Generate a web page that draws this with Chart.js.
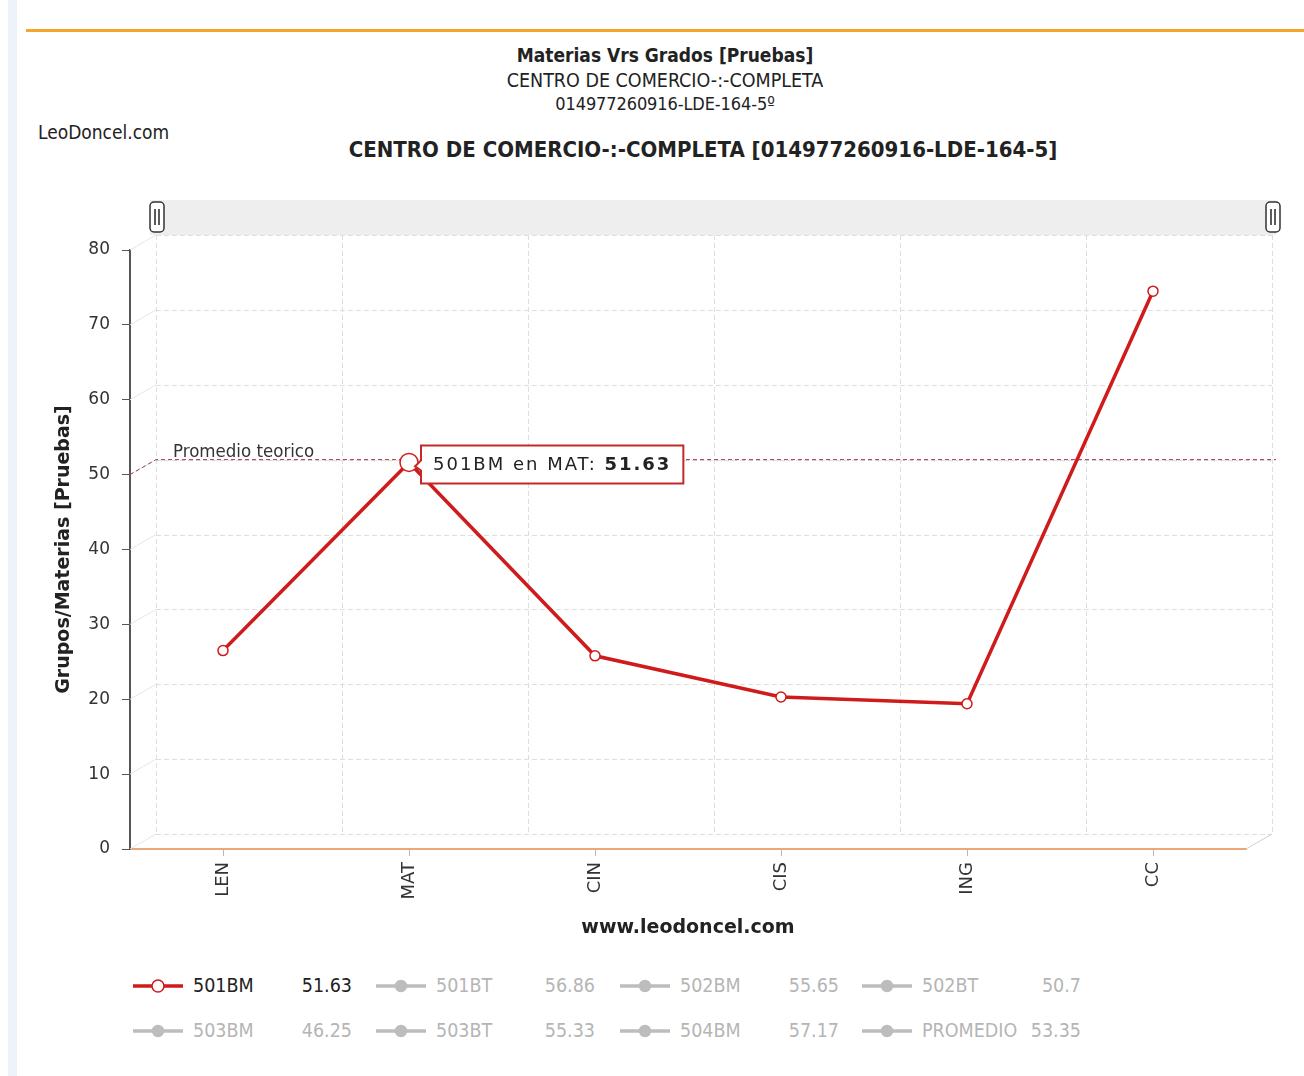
<!DOCTYPE html>
<html>
<head>
<meta charset="utf-8">
<script src="https://cdn.jsdelivr.net/npm/chart.js@4/dist/chart.umd.min.js"></script>
<style>
  html, body { margin: 0; padding: 0; background: #ffffff; }
  #page { position: relative; width: 1304px; height: 1076px; overflow: hidden; background: #fff; }
  #edge { position: absolute; left: 8px; top: 0; width: 9px; height: 1076px; background: #eef2f9; }
  #topline { position: absolute; left: 26px; top: 29px; width: 1278px; height: 3px; background: #f4a52c; }
  .hdr { position: absolute; left: 0; width: 1330px; text-align: center; color: #222; white-space: nowrap; font-family: "DejaVu Sans Condensed", "DejaVu Sans", sans-serif; }
  #h1 { top: 44px; font-size: 19px; font-weight: bold; }
  #h2 { top: 69px; font-size: 19.5px; letter-spacing: 0px; }
  #h3 { top: 93px; font-size: 18px; letter-spacing: -0.1px; }
  #brand { position: absolute; left: 38px; top: 121px; font-family: "DejaVu Sans Condensed", sans-serif; font-size: 19px; color: #222; }
  #ctitle { position: absolute; left: 0; width: 1406px; top: 137px; text-align: center; font-family: "DejaVu Sans Condensed", sans-serif; font-weight: bold; font-size: 22px; color: #222; white-space: nowrap; }
  #chartBox { position: absolute; left: 0; top: 180px; width: 1304px; height: 770px; }
  #legend { position: absolute; left: 0; top: 966px; width: 1304px; height: 100px; font-family: "DejaVu Sans Condensed", sans-serif; font-size: 19.5px; }
  .li { position: absolute; height: 40px; }
  .li .mk { position: absolute; left: 0; top: 0; width: 50px; height: 40px; }
  .li .lb { position: absolute; left: 60px; top: 8px; white-space: nowrap; }
  .li .vl { position: absolute; left: 0; width: 219px; top: 8px; text-align: right; white-space: nowrap; }
</style>
</head>
<body>
<div id="page">
  <div id="edge"></div>
  <div id="topline"></div>
  <div class="hdr" id="h1">Materias Vrs Grados [Pruebas]</div>
  <div class="hdr" id="h2">CENTRO DE COMERCIO-:-COMPLETA</div>
  <div class="hdr" id="h3">014977260916-LDE-164-5º</div>
  <div id="brand">LeoDoncel.com</div>
  <div id="ctitle">CENTRO DE COMERCIO-:-COMPLETA [014977260916-LDE-164-5]</div>
  <div id="chartBox"><canvas id="c" width="1304" height="770"></canvas></div>
  <div id="legend"></div>
</div>
<script>
// Subjects on the category axis
const materias = ["LEN", "MAT", "CIN", "CIS", "ING", "CC"];
// Scores of group 501BM per subject
const valores501BM = [26.5, 51.63, 25.8, 20.3, 19.4, 74.5];
// Reference level drawn as a dashed guide
const promedioTeorico = 50;
const promedioTexto = "Promedio teorico";
// Selected subject shown in the balloon and legend
const materiaActiva = 1;
// Legend entries (group, value at the selected subject, visible)
const gruposLegend = ["501BM", "501BT", "502BM", "502BT", "503BM", "503BT", "504BM", "PROMEDIO"];
const valoresLegend = ["51.63", "56.86", "55.65", "50.7", "46.25", "55.33", "57.17", "53.35"];
const visiblesLegend = [true, false, false, false, false, false, false, false];
// Y axis
const yMin = 0, yMax = 80, yPaso = 10;

const ROJO = "#cf1b1b";
const DX = 26, DY = -15; // depth of the back grid plane

// Back plane grid, depth edges, guide line and scroll bar
const planoFondo = {
  id: "planoFondo",
  beforeDatasetsDraw(chart) {
    const { ctx, chartArea: a, scales: { x, y } } = chart;
    ctx.save();
    // scroll bar
    ctx.fillStyle = "#eeeeee";
    ctx.fillRect(a.left + 20, a.top - 50, a.right + DX - a.left - 20 + 4, 35);
    const asa = (cx) => {
      ctx.fillStyle = "#fff";
      ctx.strokeStyle = "#333";
      ctx.lineWidth = 1.5;
      ctx.beginPath();
      ctx.roundRect(cx - 7, a.top - 48, 14, 30, 4);
      ctx.fill(); ctx.stroke();
      ctx.lineWidth = 1.6;
      ctx.beginPath();
      ctx.moveTo(cx - 2, a.top - 41); ctx.lineTo(cx - 2, a.top - 25);
      ctx.moveTo(cx + 2, a.top - 41); ctx.lineTo(cx + 2, a.top - 25);
      ctx.stroke();
    };
    asa(a.left + 27);
    asa(a.right + DX + 1);

    // horizontal grid lines on back plane
    ctx.lineWidth = 1;
    ctx.strokeStyle = "#dedede";
    ctx.setLineDash([5, 3]);
    y.ticks.forEach(t => {
      const py = Math.round(y.getPixelForValue(t.value)) + 0.5;
      ctx.beginPath();
      ctx.moveTo(a.left + DX, py + DY);
      ctx.lineTo(a.right + DX, py + DY);
      ctx.stroke();
    });
    // vertical grid lines at category boundaries
    const n = materias.length;
    for (let i = 0; i <= n; i++) {
      const px = Math.round(a.left + (a.right - a.left) * i / n) + DX + 0.5;
      ctx.beginPath();
      ctx.moveTo(px, a.top + DY);
      ctx.lineTo(px, a.bottom + DY);
      ctx.stroke();
    }
    ctx.setLineDash([]);
    // depth edges from front ticks
    ctx.strokeStyle = "#e6e6e6";
    y.ticks.forEach(t => {
      const py = y.getPixelForValue(t.value);
      ctx.beginPath();
      ctx.moveTo(a.left, py);
      ctx.lineTo(a.left + DX, py + DY);
      ctx.stroke();
    });
    ctx.strokeStyle = "#cfcfcf";
    ctx.beginPath();
    ctx.moveTo(a.right, a.bottom);
    ctx.lineTo(a.right + DX, a.bottom + DY);
    ctx.stroke();

    // guide
    const gy = y.getPixelForValue(promedioTeorico);
    ctx.strokeStyle = "#a03048";
    ctx.lineWidth = 1;
    ctx.setLineDash([4, 3]);
    ctx.beginPath();
    ctx.moveTo(a.left, gy);
    ctx.lineTo(a.left + DX, gy + DY);
    ctx.lineTo(a.right + DX + 4, gy + DY);
    ctx.stroke();
    ctx.setLineDash([]);
    ctx.fillStyle = "#333";
    ctx.font = "18.5px 'DejaVu Sans Condensed', sans-serif";
    ctx.textAlign = "left";
    ctx.textBaseline = "alphabetic";
    ctx.fillText(promedioTexto, a.left + 43, gy + DY - 3);
    ctx.restore();
  }
};

// Value balloon for the selected subject
const globo = {
  id: "globo",
  afterDatasetsDraw(chart) {
    const { ctx } = chart;
    const meta = chart.getDatasetMeta(0);
    const p = meta.data[materiaActiva];
    const v = valores501BM[materiaActiva];
    const t1 = chart.data.datasets[0].label + " en " + materias[materiaActiva] + ": ";
    const t2 = String(v);
    ctx.save();
    ctx.letterSpacing = "2px";
    ctx.font = "18px 'DejaVu Sans', sans-serif";
    const w1 = ctx.measureText(t1).width;
    ctx.font = "bold 18px 'DejaVu Sans', sans-serif";
    const w2 = ctx.measureText(t2).width;
    const bx = p.x + 12, bh = 38, bw = w1 + w2 + 24, by = p.y + 2 - bh / 2;
    ctx.fillStyle = "#fff";
    ctx.strokeStyle = "#c62828";
    ctx.lineWidth = 2;
    ctx.beginPath();
    ctx.moveTo(bx, by);
    ctx.lineTo(bx + bw, by);
    ctx.lineTo(bx + bw, by + bh);
    ctx.lineTo(bx, by + bh);
    ctx.lineTo(bx, by + bh / 2 + 6);
    ctx.lineTo(bx - 6, by + bh / 2 + 2);
    ctx.lineTo(bx, by + bh / 2 - 4);
    ctx.closePath();
    ctx.fill();
    ctx.stroke();
    ctx.fillStyle = "#222";
    ctx.textBaseline = "middle";
    ctx.font = "18px 'DejaVu Sans', sans-serif";
    ctx.fillText(t1, bx + 12, by + bh / 2 + 1);
    ctx.font = "bold 18px 'DejaVu Sans', sans-serif";
    ctx.fillText(t2, bx + 12 + w1, by + bh / 2 + 1);
    ctx.restore();
  }
};

const chart = new Chart(document.getElementById("c"), {
  type: "line",
  data: {
    labels: materias,
    datasets: [{
      label: gruposLegend[0],
      data: valores501BM,
      borderColor: ROJO,
      borderWidth: 3.5,
      tension: 0,
      pointBackgroundColor: "#fff",
      pointBorderColor: ROJO,
      pointBorderWidth: 1.5,
      pointRadius: c => c.dataIndex === materiaActiva ? 9 : 5
    }]
  },
  options: {
    responsive: false,
    animation: false,
    devicePixelRatio: 1,
    layout: { padding: { left: 0, right: 58, top: 70, bottom: 0 } },
    plugins: { legend: { display: false }, tooltip: { enabled: false } },
    scales: {
      x: {
        offset: true,
        grid: { display: true, drawOnChartArea: false, drawTicks: true, tickLength: 7, color: "#b8b8b8" },
        border: { color: "#e9a878", width: 2 },
        ticks: { minRotation: 90, maxRotation: 90, padding: 6, color: "#333", font: { family: "'DejaVu Sans', sans-serif", size: 18 } },
        title: { display: true, text: "www.leodoncel.com", color: "#222", padding: { top: 0, bottom: 11 }, font: { family: "'DejaVu Sans', sans-serif", size: 19, weight: "bold" } },
        afterFit: s => { s.height = 101; }
      },
      y: {
        min: yMin, max: yMax,
        ticks: { stepSize: yPaso, padding: 12, color: "#333", font: { family: "'DejaVu Sans', sans-serif", size: 17 } },
        grid: { display: true, drawOnChartArea: false, drawTicks: true, tickLength: 8, color: "#555" },
        border: { color: "#555", width: 2 },
        title: { display: true, text: "Grupos/Materias [Pruebas]", color: "#222", padding: { top: 53, bottom: 0 }, font: { family: "'DejaVu Sans', sans-serif", size: 19, weight: "bold" } },
        afterFit: s => { s.width = 130; }
      }
    }
  },
  plugins: [planoFondo, globo]
});

// Legend rows
const leg = document.getElementById("legend");
const colX = [133, 376, 620, 862];
gruposLegend.forEach((g, i) => {
  const on = visiblesLegend[i];
  const col = colX[i % 4], row = Math.floor(i / 4);
  const d = document.createElement("div");
  d.className = "li";
  d.style.left = col + "px";
  d.style.top = (row * 45) + "px";
  const lc = on ? ROJO : "#bdbdbd";
  d.innerHTML =
    '<svg class="mk" width="50" height="40"><line x1="0" y1="20" x2="50" y2="20" stroke="' + lc + '" stroke-width="3.5"/>' +
    '<circle cx="25" cy="20" r="' + (on ? 6 : 5.5) + '" fill="' + (on ? "#fff" : "#bdbdbd") + '" stroke="' + lc + '" stroke-width="1.5"/></svg>' +
    '<span class="lb" style="color:' + (on ? "#222" : "#b5b5b5") + '">' + g + '</span>' +
    '<span class="vl" style="color:' + (on ? "#222" : "#b5b5b5") + '">' + valoresLegend[i] + '</span>';
  leg.appendChild(d);
});
</script>
</body>
</html>
